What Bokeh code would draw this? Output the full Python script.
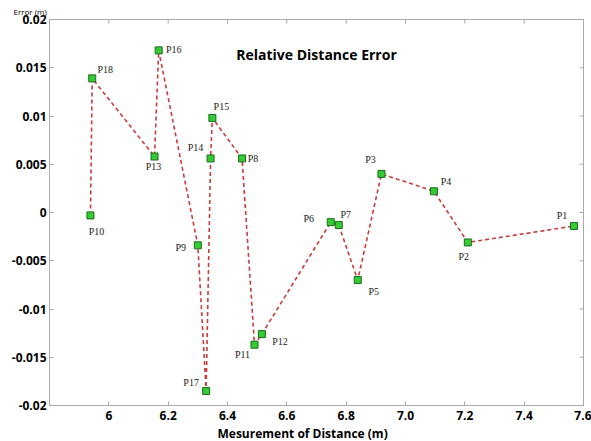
import math
from bokeh.plotting import figure
from bokeh.models import ColumnDataSource, FixedTicker, Label, Range1d, Title
from bokeh.core.properties import value
from bokeh.embed import file_html
from bokeh.resources import INLINE

# ---- data ----
point_names = ["P10", "P18", "P13", "P16", "P9", "P17", "P14", "P15", "P8",
               "P11", "P12", "P6", "P7", "P5", "P3", "P4", "P2", "P1"]
distance_m = [5.938, 5.944, 6.154, 6.168, 6.300, 6.328, 6.343, 6.349, 6.449,
              6.491, 6.516, 6.748, 6.775, 6.839, 6.919, 7.096, 7.210, 7.568]
error_m = [-0.0003, 0.0139, 0.0058, 0.0168, -0.0034, -0.0185, 0.0056, 0.0098, 0.0056,
           -0.0137, -0.0126, -0.0010, -0.0013, -0.0070, 0.0040, 0.0022, -0.0031, -0.0014]

x_ticks = [6.0, 6.2, 6.4, 6.6, 6.8, 7.0, 7.2, 7.4, 7.6]
x_tick_labels = ["6", "6.2", "6.4", "6.6", "6.8", "7.0", "7.2", "7.4", "7.6"]
y_ticks = [-0.02, -0.015, -0.01, -0.005, 0.0, 0.005, 0.01, 0.015, 0.02]
y_tick_labels = ["-0.02", "-0.015", "-0.01", "-0.005", "0", "0.005", "0.01", "0.015", "0.02"]

title_text = "Relative Distance Error"
x_label = "Mesurement of Distance (m)"
y_label = "Error (m)"

# label placement (screen pixels, y down) -- style only
label_dx = [6, 13, -1, 15, -17, -15, -15, 9, 11, -12, 18, -22, 7, 16, -11, 12, -4, -12]
label_dy = [16, -9, 10, -1, 2, -9, -11, -11, 0, 10, 7, -4, -11, 11, -14, -10, 14, -11]

x_lo, x_hi = x_ticks[0] - 0.2, x_ticks[-1]
y_lo, y_hi = y_ticks[0], y_ticks[-1]

src = ColumnDataSource(dict(x=distance_m, y=error_m, name=point_names,
                            dx=label_dx, dy=label_dy))

W, H = 591, 441
B_LEFT, B_RIGHT, B_TOP, B_BOTTOM = 49, 8, 19, 34
FRAME_H = H - B_TOP - B_BOTTOM

tick_font = "Open Sans"
axis_color = "#a8a8a8"

p = figure(width=W, height=H,
           x_range=Range1d(x_lo, x_hi), y_range=Range1d(y_lo, y_hi),
           output_backend="svg", toolbar_location=None,
           min_border_left=B_LEFT, min_border_right=B_RIGHT,
           min_border_top=B_TOP, min_border_bottom=B_BOTTOM,
           background_fill_color="white", border_fill_color="white")
p.title = Title(text=y_label, align="left", offset=-36, standoff=6,
                text_font=tick_font, text_font_size="8px",
                text_font_style="normal", text_color="black")
p.outline_line_color = axis_color
p.xgrid.visible = False
p.ygrid.visible = False


def style_axis(ax, ticks, labels):
    ax.ticker = FixedTicker(ticks=ticks)
    ax.axis_line_color = axis_color
    ax.major_tick_line_color = axis_color
    ax.major_tick_in = 4
    ax.major_tick_out = 0
    ax.minor_tick_line_color = None
    ax.major_label_overrides = {t: l for t, l in zip(ticks, labels)}
    ax.major_label_text_font = tick_font
    ax.major_label_text_font_style = "bold"
    ax.major_label_text_font_size = "12px"
    ax.major_label_text_color = "black"


style_axis(p.xaxis[0], x_ticks, x_tick_labels)
p.xaxis[0].major_label_standoff = 5
style_axis(p.yaxis[0], y_ticks, y_tick_labels)
p.yaxis[0].major_label_standoff = 3

p.add_layout(Title(text=x_label, align="left", offset=168, standoff=0,
                   text_font=tick_font, text_font_size="12px",
                   text_font_style="bold", text_color="black"), "below")

# inward ticks on the top and right frame edges
p.scatter(x=x_ticks, y=[y_hi] * len(x_ticks), marker="dash", angle=math.pi / 2,
          size=8, line_color=axis_color, line_width=1)
p.scatter(x=[x_hi] * len(y_ticks), y=y_ticks, marker="dash", angle=0,
          size=8, line_color=axis_color, line_width=1)

p.line("x", "y", source=src, line_color="#c83c3c", line_width=1.6, line_dash="4 3")
p.scatter("x", "y", source=src, marker="square", size=7,
          fill_color="#33cc33", line_color="#1d6b1d", line_width=1)
p.text("x", "y", text="name", source=src, x_offset="dx", y_offset="dy",
       text_font=value("Liberation Serif"), text_font_size="10px",
       text_align="center", text_baseline="middle", text_color="#222222")

p.add_layout(Label(x=267, y=FRAME_H - 37, x_units="screen", y_units="screen",
                   text=title_text, text_align="center",
                   text_baseline="middle", text_font=tick_font, text_font_style="bold",
                   text_font_size="14px", text_color="black"))

open("out.html", "w").write(file_html(p, INLINE))
